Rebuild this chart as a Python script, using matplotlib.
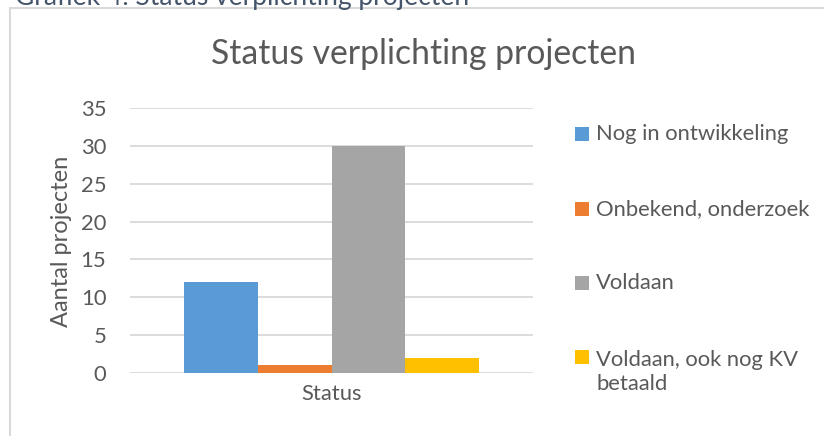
import numpy as np
import matplotlib.pyplot as plt
from matplotlib.patches import Rectangle

# data
categorie = ["Status"]
reeksen = ["Nog in ontwikkeling", "Onbekend, onderzoek", "Voldaan",
           "Voldaan, ook nog KV\nbetaald"]
waarden = [12, 1, 30, 2]
kleuren = ["#5B9BD5", "#ED7D31", "#A5A5A5", "#FFC000"]
yticks = [0, 5, 10, 15, 20, 25, 30, 35]

W, H = 824, 436
plt.rcParams['font.family'] = ['Lato', 'DejaVu Sans']
tekst = "#595959"
raster = "#D9D9D9"

def px(x, y):
    # pixel (vanaf linksboven) naar figuur-coordinaten
    return x / W, 1 - y / H

fig = plt.figure(figsize=(W / 100, H / 100), dpi=100)

# kader van de grafiek (loopt buiten beeld door)
x0, y0 = px(10, 8)
fig.patches.append(Rectangle((x0, -0.05), 1.1, y0 + 0.05, transform=fig.transFigure,
                             fill=False, edgecolor=raster, linewidth=1.5))

# kop boven de grafiek, half afgesneden
fig.text(*px(15, 5), "Grafiek 4: Status verplichting projecten", color="#44546A",
         fontsize=19, va="baseline", ha="left")

l, b = px(130, 373)
r, t = px(533, 108)
ax = fig.add_axes([l, b, r - l, t - b])

breedte = 0.1825
x = np.arange(len(categorie))
for i, (naam, w, k) in enumerate(zip(reeksen, waarden, kleuren)):
    ax.bar(x + (i - 1.5) * breedte, [w], width=breedte, color=k, label=naam, zorder=3)

ax.set_xlim(-0.5, 0.5)
ax.set_ylim(0, 35)
ax.set_yticks(yticks)
ax.set_xticks(x)
ax.set_xticklabels(categorie)
ax.yaxis.grid(True, color=raster, linewidth=1.3, zorder=0)
ax.set_axisbelow(True)
for s in ax.spines.values():
    s.set_visible(False)
ax.tick_params(axis="both", length=0, labelsize=15.8, colors=tekst)
ax.tick_params(axis="y", pad=17)
ax.tick_params(axis="x", pad=8)
ax.set_ylabel("Aantal projecten", fontsize=17, color=tekst)
ax.yaxis.set_label_coords(-0.144, 0.498)

fig.text(*px(423, 54), "Status verplichting projecten", fontsize=24.3, color=tekst,
         ha="center", va="center")

# legenda
midden = [134, 209, 283, 357]
for naam, k, ym in zip(reeksen, kleuren, midden):
    qx, qy = px(575, ym + 7)
    fig.patches.append(Rectangle((qx, qy), 14 / W, 14 / H, transform=fig.transFigure,
                                 facecolor=k, edgecolor="none"))
    n = naam.count("\n")
    fig.text(*px(596, ym + n * 15), naam, fontsize=15.8, color=tekst,
             ha="left", va="center", linespacing=1.3)

fig.savefig("out.png", dpi=100)
